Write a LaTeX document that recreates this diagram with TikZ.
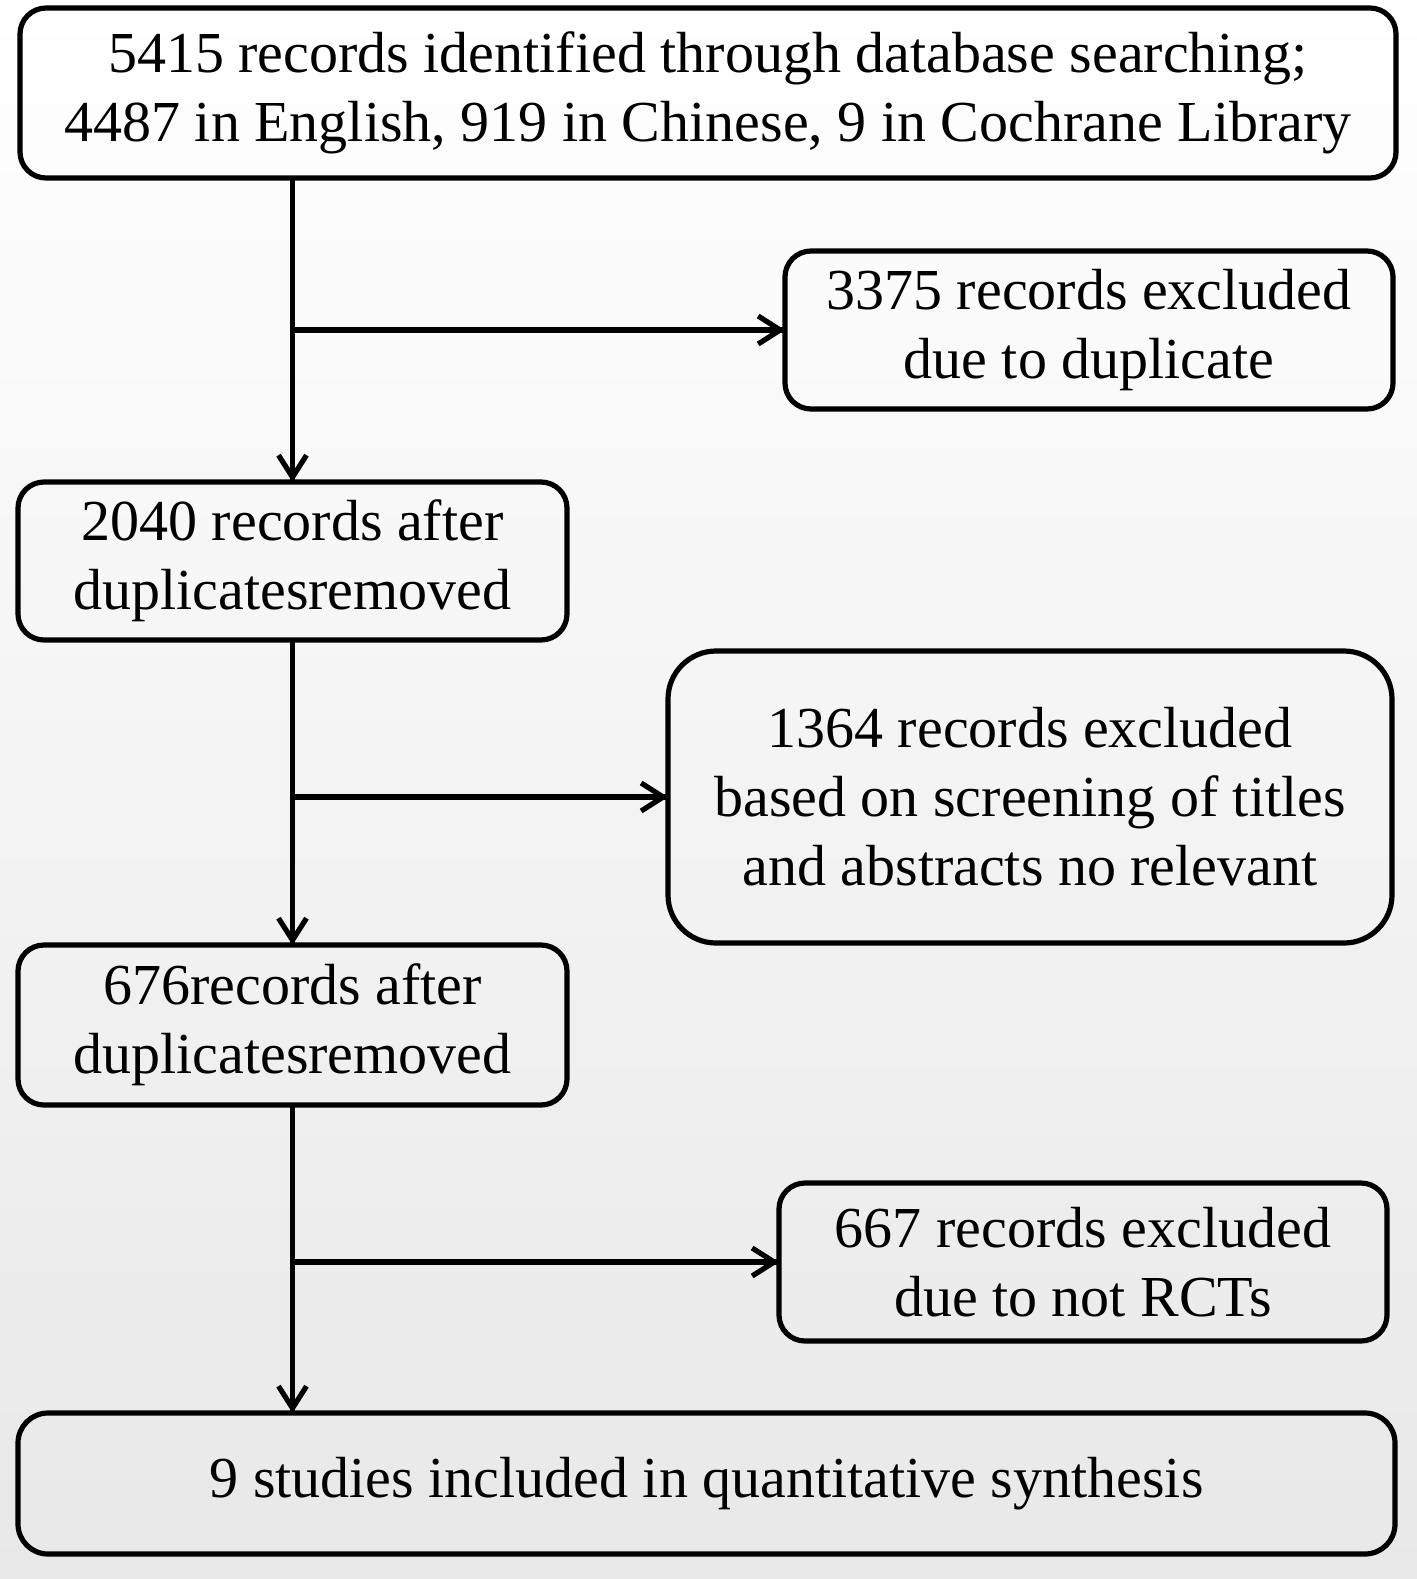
\documentclass[tikz,border=0pt]{standalone}
\usepackage{fontspec}
\setmainfont{Liberation Serif}
\usepackage{tikz}
\usetikzlibrary{arrows.meta}
\usetikzlibrary{decorations.markings}
\usetikzlibrary{positioning}
\tikzset{->/.style = {decoration={markings,
                                  mark=at position 1 with {\arrow{Straight Barb[length=11pt, width=14pt]}}},
                      postaction={decorate}}}
\tikzset{rbox/.style = {draw, line width=2.6pt, rounded corners=13pt, inner sep=0, outer sep=0,
                        align=center, font=\fontsize{29}{34.5}\selectfont}}
\definecolor{mbg}{rgb}{0.91, 0.91, 0.91}

\begin{document}
\begin{tikzpicture}[x=0.5pt, y=-0.5pt, line width=2.6pt]
      \useasboundingbox (0, 0) rectangle (1417, 1579);
      \shade [top color=white, bottom color=mbg] (0, 0) rectangle (1417, 1579);

      \node [rbox, minimum width=688pt, minimum height=85pt] (search) at (708, 93)
            {5415 records identified through database searching;\\4487 in English, 919 in Chinese, 9 in Cochrane Library};
      \node [rbox, minimum width=304pt, minimum height=79pt] (dup) at (1089, 330)
            {3375 records excluded\\due to duplicate};
      \node [rbox, minimum width=274.5pt, minimum height=79pt] (after) at (292.5, 561)
            {2040 records after\\duplicatesremoved};
      \node [rbox, minimum width=362pt, minimum height=146pt, rounded corners=24pt] (screen) at (1030, 797)
            {1364 records excluded\\based on screening of titles\\and abstracts no relevant};
      \node [rbox, minimum width=274.5pt, minimum height=80pt] (left) at (292.5, 1025)
            {676records after\\duplicatesremoved};
      \node [rbox, minimum width=304pt, minimum height=79pt] (rct) at (1083, 1262)
            {667 records excluded\\due to not RCTs};
      \node [rbox, minimum width=688.5pt, minimum height=70.5pt, rounded corners=15pt] (incl) at (706.5, 1483.5)
            {9 studies included in quantitative synthesis};

      \draw [->] (search.south -| after.north) -- (after.north);
      \draw [->] (dup.west -| after.north) -- (dup.west);

      \draw [->] (after.south) -- (left.north);
      \draw [->] (screen.west -| after.north) -- (screen.west);

      \draw [->] (left.south) -- (left.south |- incl.north);
      \draw [->] (rct.west -| left.south) -- (rct.west);
\end{tikzpicture}
\end{document}
